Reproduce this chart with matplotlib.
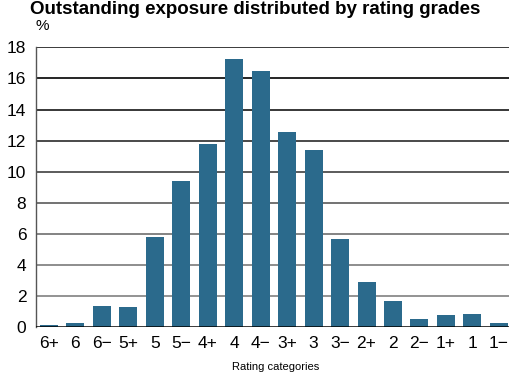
import matplotlib
matplotlib.use("Agg")
import matplotlib.pyplot as plt
import numpy as np

categories = ["6+", "6", "6\u2212", "5+", "5", "5\u2212", "4+", "4", "4\u2212", "3+", "3",
              "3\u2212", "2+", "2", "2\u2212", "1+", "1", "1\u2212"]
values = [0.12, 0.3, 1.36, 1.3, 5.8, 9.4, 11.8, 17.25, 16.48, 12.55, 11.4,
          5.67, 2.9, 1.7, 0.53, 0.78, 0.85, 0.27]
yticks = [0, 2, 4, 6, 8, 10, 12, 14, 16, 18]

plt.rcParams['font.family'] = ['Liberation Sans', 'DejaVu Sans']

fig = plt.figure(figsize=(5.10, 3.72), dpi=100)
ax = fig.add_axes([36/510, 1 - 327.2/372, 1 - 36/510 + 0.01, (327.2 - 47.3)/372])

x = np.arange(len(categories))
grid_colors = {2: "#808080", 4: "#7a7a7a", 6: "#6e6e6e", 8: "#5a5a5a", 10: "#404040",
               12: "#2a2a2a", 14: "#151515", 16: "#000000", 18: "#1a1a1a"}
for yv in yticks[1:]:
    ax.axhline(yv, color=grid_colors[yv], lw=1.2, zorder=1)

ax.bar(x, values, width=0.68, color="#2b6a8c", zorder=2)
ax.axhline(0, color="black", lw=1.8, zorder=3)

ax.set_xlim(-0.49, 17.42 + 0.01*510/26.47)
ax.set_ylim(0, 18)
ax.set_yticks(yticks)
ax.set_yticklabels([str(v) for v in yticks], fontsize=12.5)
ax.set_xticks(x)
ax.set_xticklabels(categories, fontsize=12.5)
ax.tick_params(axis='both', length=0, pad=6)
ax.tick_params(axis='y', pad=7)
for s in ["top", "right", "bottom"]:
    ax.spines[s].set_visible(False)
ax.spines["left"].set_color("#555555")
ax.spines["left"].set_linewidth(1.0)

ax.set_xlabel("Rating categories", fontsize=8, labelpad=8)

fig.text(36/510, 1 - 26/372, "%", fontsize=11, ha="left", va="center")
fig.text(0.5, 1 - 1/372, "Outstanding exposure distributed by rating grades",
         fontsize=13.5, fontweight="bold", ha="center", va="top")

fig.savefig("out.png", dpi=100)
